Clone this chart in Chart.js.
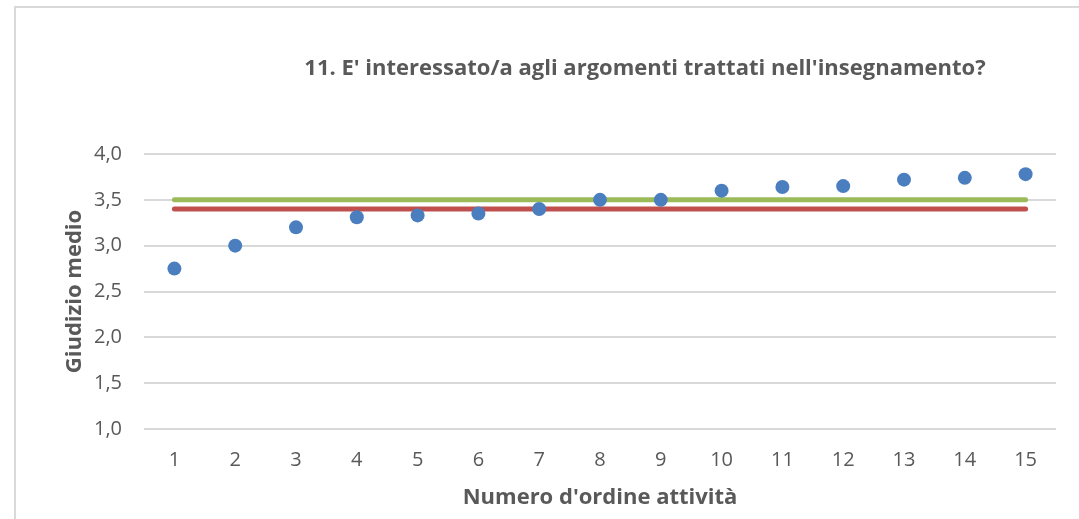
<!DOCTYPE html>
<html>
<head>
<meta charset="utf-8">
<script src="https://cdn.jsdelivr.net/npm/chart.js@4/dist/chart.umd.min.js"></script>
<style>
  html, body { margin: 0; padding: 0; background: #fff; }
  #frame { position: absolute; left: 14px; top: 6px; width: 1100px; height: 540px;
           border-left: 2px solid #d9d9d9; border-top: 2px solid #d9d9d9; }
  #chart { position: absolute; left: 0; top: 0; }
</style>
</head>
<body>
<div id="frame"></div>
<canvas id="chart" width="1079" height="519"></canvas>
<script>
// categories (activity order number)
var categories = ["1", "2", "3", "4", "5", "6", "7", "8", "9", "10", "11", "12", "13", "14", "15"];
// average score per activity
var giudizio = [2.75, 3.0, 3.2, 3.31, 3.33, 3.35, 3.4, 3.5, 3.5, 3.6, 3.64, 3.65, 3.72, 3.74, 3.78];
// reference lines
var lineaVerde = [3.5, 3.5, 3.5, 3.5, 3.5, 3.5, 3.5, 3.5, 3.5, 3.5, 3.5, 3.5, 3.5, 3.5, 3.5];
var lineaRossa = [3.4, 3.4, 3.4, 3.4, 3.4, 3.4, 3.4, 3.4, 3.4, 3.4, 3.4, 3.4, 3.4, 3.4, 3.4];

var titleText = "11. E' interessato/a agli argomenti trattati nell'insegnamento?";
var fontFam = "Open Sans";
var txtColor = "#595959";

var titlePlugin = {
    id: "topTitle",
    afterDraw: function (chart) {
        var c = chart.ctx;
        c.save();
        c.font = "bold 22px '" + fontFam + "'";
        c.fillStyle = txtColor;
        c.textAlign = "center";
        c.textBaseline = "middle";
        c.fillText(titleText, 645, 69);
        c.restore();
    }
};

var ctx = document.getElementById("chart").getContext("2d");

new Chart(ctx, {
    type: "line",
    data: {
        labels: categories,
        datasets: [{
            label: "Giudizio medio",
            data: giudizio,
            showLine: false,
            pointRadius: 7,
            pointHoverRadius: 7,
            pointBackgroundColor: "#4a7ebf",
            pointBorderWidth: 0,
            borderColor: "#4a7ebf"
        },
        {
            label: "Verde",
            data: lineaVerde,
            borderColor: "#9bbb59",
            borderWidth: 5,
            borderCapStyle: "round",
            pointRadius: 0,
            tension: 0
        },
        {
            label: "Rossa",
            data: lineaRossa,
            borderColor: "#c0504d",
            borderWidth: 5,
            borderCapStyle: "round",
            pointRadius: 0,
            tension: 0
        }]
    },
    options: {
        responsive: false,
        animation: false,
        layout: {
            padding: { left: 0, right: 23, top: 154, bottom: 0 }
        },
        plugins: {
            legend: { display: false },
            title: { display: false },
            tooltip: { enabled: false }
        },
        scales: {
            x: {
                offset: true,
                grid: { display: false, drawTicks: false },
                border: { display: false },
                ticks: {
                    color: txtColor,
                    padding: 19,
                    font: { size: 20, family: fontFam }
                },
                title: {
                    display: true,
                    text: "Numero d'ordine attività",
                    color: txtColor,
                    padding: { top: 0, bottom: 8 },
                    font: { size: 22, weight: "bold", family: fontFam }
                },
                afterFit: function (scale) { scale.height = 90; }
            },
            y: {
                min: 1,
                max: 4,
                grid: { color: "#d9d9d9", lineWidth: 2, drawTicks: false },
                border: { display: false },
                ticks: {
                    stepSize: 0.5,
                    color: txtColor,
                    padding: 22,
                    font: { size: 20, family: fontFam },
                    callback: function (v) { return v.toFixed(1).replace(".", ","); }
                },
                title: {
                    display: true,
                    text: "Giudizio medio",
                    color: txtColor,
                    padding: { top: 62, bottom: 0 },
                    font: { size: 22, weight: "bold", family: fontFam }
                },
                afterFit: function (scale) { scale.width = 144; }
            }
        }
    },
    plugins: [titlePlugin]
});
</script>
</body>
</html>
